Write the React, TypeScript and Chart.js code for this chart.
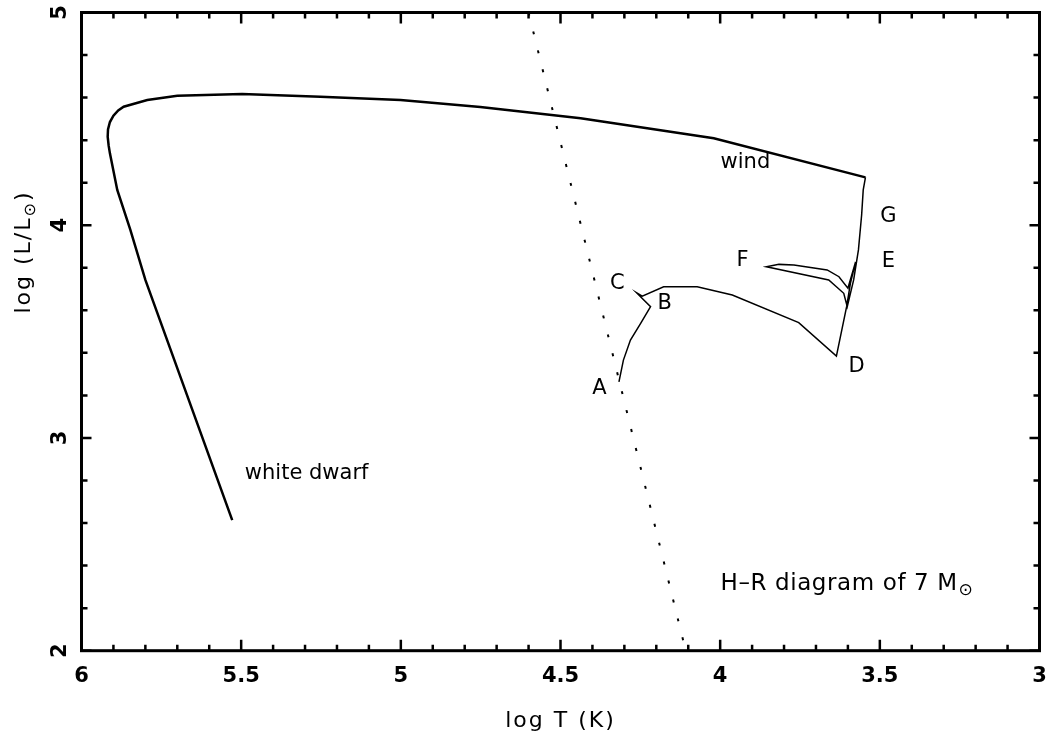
import React, { useEffect, useRef } from "react";
import { Chart, registerables } from "chart.js";

Chart.register(...registerables);

// Evolutionary track (thin): A -> B -> C -> D -> E -> F -> G -> AGB
const trackX = [4.317, 4.303, 4.281, 4.249, 4.218, 4.262, 4.244, 4.177, 4.072, 3.962, 3.754, 3.636, 3.604, 3.592, 3.576, 3.600, 3.628, 3.665, 3.769, 3.816, 3.855, 3.660, 3.613, 3.602, 3.582, 3.567, 3.557, 3.552, 3.545];
const trackY = [3.264, 3.366, 3.460, 3.539, 3.617, 3.683, 3.667, 3.711, 3.711, 3.672, 3.542, 3.385, 3.617, 3.728, 3.827, 3.704, 3.758, 3.790, 3.813, 3.816, 3.805, 3.743, 3.680, 3.617, 3.743, 3.884, 4.048, 4.166, 4.225];

// Post-AGB (wind) and white dwarf cooling track (thick)
const windX = [3.545, 4.020, 4.437, 4.751, 5.001, 5.252, 5.497, 5.700, 5.794, 5.868, 5.885, 5.900, 5.911, 5.917, 5.918, 5.915, 5.911, 5.888, 5.847, 5.800, 5.528];
const windY = [4.225, 4.409, 4.503, 4.556, 4.589, 4.604, 4.617, 4.609, 4.589, 4.557, 4.540, 4.515, 4.485, 4.450, 4.416, 4.375, 4.338, 4.166, 3.978, 3.743, 2.614];

// Dotted boundary line
const boundaryX = [4.600, 4.108];
const boundaryY = [5.0, 2.0];

// Axis ticks
const xTickValues = [6, 5.5, 5, 4.5, 4, 3.5, 3];
const xTickLabels = ["6", "5.5", "5", "4.5", "4", "3.5", "3"];
const yTickValues = [5, 4, 3, 2];
const yTickLabels = ["5", "4", "3", "2"];

// Point labels
const pointLabels = ["A", "B", "C", "D", "E", "F", "G"];
const pointLabelX = [4.378, 4.174, 4.322, 3.573, 3.473, 3.930, 3.473];
const pointLabelY = [3.230, 3.634, 3.728, 3.334, 3.827, 3.832, 4.039];

// Other annotations
const noteTexts = ["wind", "white dwarf"];
const noteX = [3.921, 5.295];
const noteY = [4.293, 2.831];

const titleX = 3.999;
const titleY = 2.285;

const FONT = "'DejaVu Sans', 'Liberation Sans', sans-serif";

const toPoints = (xs: number[], ys: number[]) => xs.map((x, i) => ({ x, y: ys[i] }));

const decorPlugin = {
  id: "decor",
  afterDraw(chart: any) {
    const { ctx, chartArea: a, scales } = chart;
    const xs = scales.x;
    const ys = scales.y;
    ctx.save();
    ctx.strokeStyle = "#000";
    ctx.fillStyle = "#000";
    ctx.lineCap = "butt";

    // ticks
    ctx.lineWidth = 2.5;
    ctx.beginPath();
    for (let i = 0; i <= 30; i++) {
      const v = 3 + i * 0.1;
      const px = xs.getPixelForValue(v);
      const len = i % 5 === 0 ? 11 : 6;
      ctx.moveTo(px, a.bottom);
      ctx.lineTo(px, a.bottom - len);
      ctx.moveTo(px, a.top);
      ctx.lineTo(px, a.top + len);
    }
    for (let i = 0; i <= 15; i++) {
      const v = 2 + i * 0.2;
      const py = ys.getPixelForValue(v);
      const len = i % 5 === 0 ? 10 : 6;
      ctx.moveTo(a.left, py);
      ctx.lineTo(a.left + len, py);
      ctx.moveTo(a.right, py);
      ctx.lineTo(a.right - len, py);
    }
    ctx.stroke();

    // frame
    ctx.lineWidth = 3;
    ctx.strokeRect(a.left, a.top, a.right - a.left, a.bottom - a.top);

    // x tick labels
    ctx.font = `bold 21px ${FONT}`;
    ctx.textAlign = "center";
    ctx.textBaseline = "alphabetic";
    xTickValues.forEach((v, i) => {
      ctx.fillText(xTickLabels[i], xs.getPixelForValue(v), 682);
    });

    // y tick labels (rotated)
    yTickValues.forEach((v, i) => {
      ctx.save();
      ctx.translate(66, ys.getPixelForValue(v));
      ctx.rotate(-Math.PI / 2);
      ctx.fillText(yTickLabels[i], 0, 0);
      ctx.restore();
    });

    // x axis title
    ctx.font = `22px ${FONT}`;
    (ctx as any).letterSpacing = "2px";
    ctx.fillText("log T (K)", (a.left + a.right) / 2, 727);

    // y axis title (rotated) with subscript sun symbol
    ctx.save();
    ctx.translate(30, 252);
    ctx.rotate(-Math.PI / 2);
    ctx.textAlign = "left";
    const p1 = "log (L/L";
    const p2 = "\u2299";
    const p3 = ")";
    ctx.font = `22px ${FONT}`;
    const w1 = ctx.measureText(p1).width;
    const w3 = ctx.measureText(p3).width;
    ctx.font = `16px ${FONT}`;
    const w2 = ctx.measureText(p2).width;
    const total = w1 + w2 + w3;
    let cx = -total / 2;
    ctx.font = `22px ${FONT}`;
    ctx.fillText(p1, cx, 0);
    cx += w1;
    ctx.font = `16px ${FONT}`;
    ctx.fillText(p2, cx, 5);
    cx += w2;
    ctx.font = `22px ${FONT}`;
    ctx.fillText(p3, cx, 0);
    ctx.restore();
    (ctx as any).letterSpacing = "0px";

    // point labels
    ctx.font = `21px ${FONT}`;
    ctx.textAlign = "center";
    ctx.textBaseline = "middle";
    pointLabels.forEach((t, i) => {
      ctx.fillText(t, xs.getPixelForValue(pointLabelX[i]), ys.getPixelForValue(pointLabelY[i]));
    });
    noteTexts.forEach((t, i) => {
      ctx.fillText(t, xs.getPixelForValue(noteX[i]), ys.getPixelForValue(noteY[i]));
    });

    // title-like annotation
    ctx.textAlign = "left";
    ctx.textBaseline = "alphabetic";
    ctx.font = `23px ${FONT}`;
    (ctx as any).letterSpacing = "0.6px";
    const tx = xs.getPixelForValue(titleX);
    const ty = ys.getPixelForValue(titleY);
    const main = "H\u2013R diagram of 7 M";
    ctx.fillText(main, tx, ty);
    const mw = ctx.measureText(main).width;
    (ctx as any).letterSpacing = "0px";
    ctx.font = `17px ${FONT}`;
    ctx.fillText("\u2299", tx + mw + 1, ty + 5);

    ctx.restore();
  },
};

export default function App() {
  const ref = useRef<HTMLCanvasElement | null>(null);
  useEffect(() => {
    if (!ref.current) return;
    const chart = new Chart(ref.current, {
      type: "scatter",
      data: {
        datasets: [
          {
            label: "track",
            data: toPoints(trackX, trackY),
            showLine: true,
            borderColor: "#000",
            borderWidth: 1.5,
            pointRadius: 0,
            tension: 0,
          },
          {
            label: "wind",
            data: toPoints(windX, windY),
            showLine: true,
            borderColor: "#000",
            borderWidth: 2.5,
            pointRadius: 0,
            tension: 0,
          },
          {
            label: "boundary",
            data: toPoints(boundaryX, boundaryY),
            showLine: true,
            borderColor: "#000",
            borderWidth: 2,
            borderDash: [3, 16.5],
            pointRadius: 0,
          },
        ],
      },
      options: {
        animation: false,
        responsive: false,
        devicePixelRatio: 1,
        layout: { padding: { left: 81.5, right: 7.5, top: 12.5, bottom: 85.3 } },
        plugins: { legend: { display: false }, tooltip: { enabled: false } },
        events: [],
        scales: {
          x: { type: "linear", min: 3, max: 6, reverse: true, display: false },
          y: { type: "linear", min: 2, max: 5, display: false },
        },
      },
      plugins: [decorPlugin],
    });
    return () => chart.destroy();
  }, []);
  return (
    <div style={{ position: "absolute", left: 0, top: 0, width: 1047, height: 736, background: "#fff" }}>
      <canvas ref={ref} width={1047} height={736} style={{ display: "block" }} />
    </div>
  );
}
